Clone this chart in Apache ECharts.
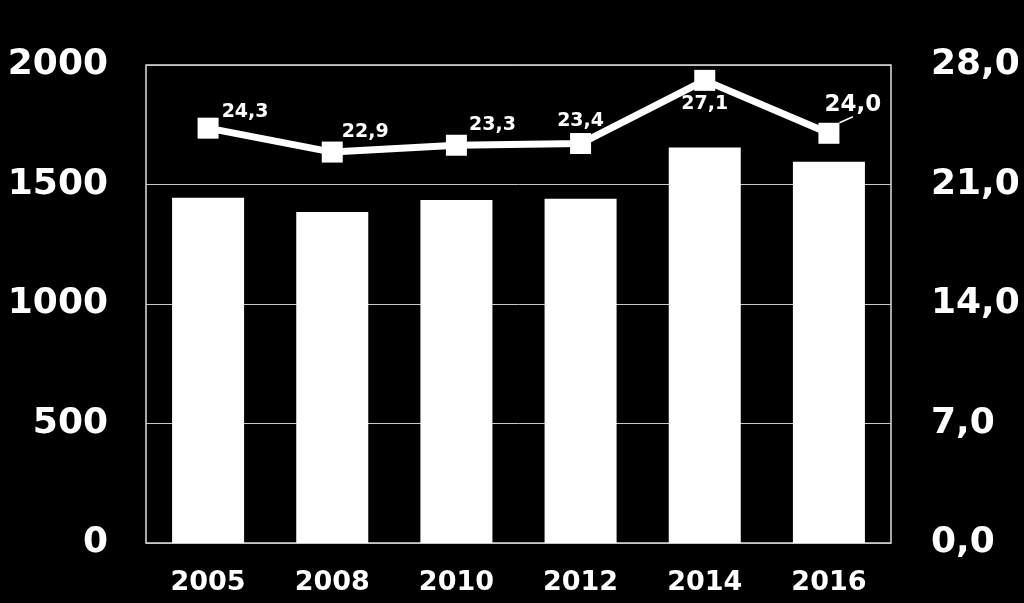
<!DOCTYPE html>
<html><head><meta charset="utf-8">
<script src="https://cdn.jsdelivr.net/npm/echarts@6/dist/echarts.min.js"></script>
<style>html,body{margin:0;padding:0;background:#000;}#c{width:1024px;height:603px;}</style>
</head><body><div id="c"></div>
<script>
const categories = ['2005','2008','2010','2012','2014','2016'];
const barValues = [1445, 1385, 1435, 1440, 1655, 1595];
const lineValues = [24.3, 22.9, 23.3, 23.4, 27.1, 24.0];
const leftTicks = [0, 500, 1000, 1500, 2000];
const rightTicks = [0, 7, 14, 21, 28];

const labelOffsets = [[37,-16],[33,-20],[36,-20],[0,-22],[0,24],[24,-28]];
const labelSizes = [19,19,19,19,19,23];
const fmt = v => v.toFixed(1).replace('.', ',');
const font = '"DejaVu Sans", Verdana, sans-serif';

const chart = echarts.init(document.getElementById('c'));
chart.setOption({
  backgroundColor: '#000',
  animation: false,
  grid: {left: 146, right: 133, top: 65, bottom: 60, containLabel: false, outerBoundsMode: 'none',
    show: true, borderColor: '#e0e0e0', borderWidth: 1.5},
  xAxis: {
    type: 'category', data: categories,
    axisLine: {show: false}, axisTick: {show: false},
    axisLabel: {color: '#fff', fontFamily: font, fontWeight: 'bold', fontSize: 27, margin: 26}
  },
  yAxis: [{
    type: 'value', min: leftTicks[0], max: leftTicks[leftTicks.length-1], interval: 500,
    axisLine: {show: false}, axisTick: {show: false},
    splitLine: {lineStyle: {color: '#c8c8c8', width: 1}},
    axisLabel: {color: '#fff', fontFamily: font, fontWeight: 'bold', fontSize: 36, margin: 38,
      formatter: v => String(v)}
  },{
    type: 'value', min: rightTicks[0], max: rightTicks[rightTicks.length-1], interval: 7,
    axisLine: {show: false}, axisTick: {show: false}, splitLine: {show: false},
    axisLabel: {color: '#fff', fontFamily: font, fontWeight: 'bold', fontSize: 36, margin: 40,
      formatter: v => fmt(v)}
  }],
  series: [{
    type: 'bar', data: barValues, barWidth: '58%',
    itemStyle: {color: '#fff'}
  },{
    type: 'line', yAxisIndex: 1,
    data: lineValues.map((v, i) => ({
      value: v,
      label: {fontSize: labelSizes[i]},
      labelLine: {show: i === 5, lineStyle: {color: '#fff', width: 1.5}, length2: 0}
    })),
    symbol: 'rect', symbolSize: 21,
    lineStyle: {color: '#fff', width: 7},
    itemStyle: {color: '#fff'},
    label: {show: true, position: 'inside', color: '#fff', fontFamily: font, fontWeight: 'bold',
      formatter: p => fmt(p.value)},
    labelLayout: p => ({dx: labelOffsets[p.dataIndex][0], dy: labelOffsets[p.dataIndex][1]}),
    z: 5
  }]
});
</script></body></html>
